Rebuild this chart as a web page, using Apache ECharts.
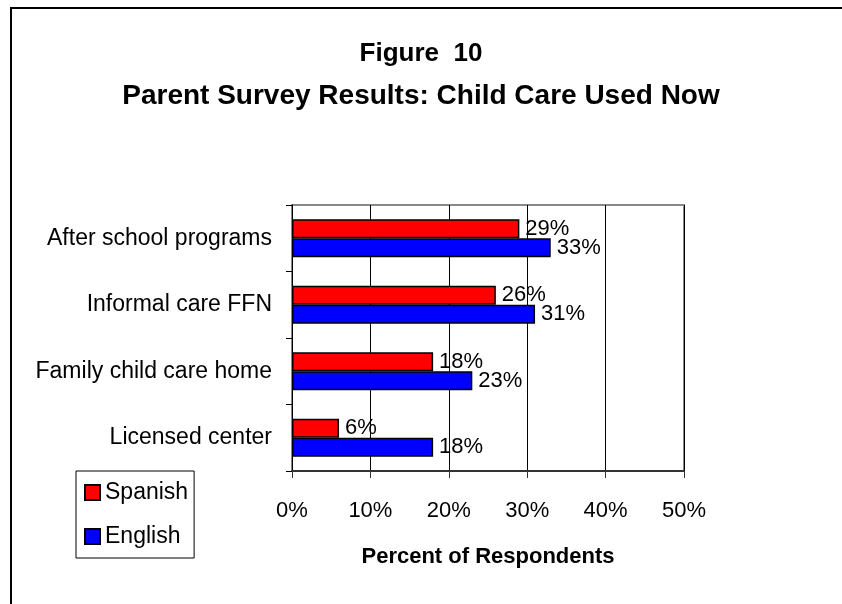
<!DOCTYPE html>
<html>
<head>
<meta charset="utf-8">
<script src="https://cdn.jsdelivr.net/npm/echarts@6/dist/echarts.min.js"></script>
<style>
html,body{margin:0;padding:0;background:#fff;}
#chart{width:842px;height:604px;}
</style>
</head>
<body>
<div id="chart"></div>
<script>
var categories = ['After school programs', 'Informal care FFN', 'Family child care home', 'Licensed center'];
var spanish = [29, 26, 18, 6];
var english = [33, 31, 23, 18];
var xTicks = { min: 0, max: 50, interval: 10 };
var titleLine1 = 'Figure  10';
var titleLine2 = 'Parent Survey Results: Child Care Used Now';
var xAxisName = 'Percent of Respondents';

var FONT = "'Liberation Sans', Arial, sans-serif";
var chart = echarts.init(document.getElementById('chart'), null, { renderer: 'canvas' });
var labelStyle = { show: true, position: 'right', distance: 6, formatter: '{c}%', fontSize: 22, color: '#000', fontFamily: FONT };
chart.setOption({
  animation: false,
  backgroundColor: '#fff',
  textStyle: { fontFamily: FONT },
  title: [
    { text: titleLine1, left: 'center', top: 36, textStyle: { fontSize: 26, fontWeight: 'bold', color: '#000', fontFamily: FONT } },
    { text: titleLine2, left: 'center', top: 77, textStyle: { fontSize: 28, fontWeight: 'bold', color: '#000', fontFamily: FONT } }
  ],
  graphic: [
    { type: 'polyline', shape: { points: [[11, 604], [11, 8], [842, 8]] }, style: { stroke: '#000', lineWidth: 2, fill: null }, z: 100 }
  ],
  legend: {
    orient: 'vertical',
    left: 76,
    top: 471,
    padding: [10, 6, 10, 8],
    itemWidth: 15,
    itemHeight: 15,
    itemGap: 21,
    itemTextGap: 8,
    borderColor: '#000',
    borderWidth: 1,
    selectedMode: false,
    icon: 'rect',
    textStyle: { fontSize: 23, color: '#000', fontFamily: FONT },
    data: ['Spanish', 'English']
  },
  grid: {
    left: 292, top: 205, right: 158, bottom: 133,
    show: true, borderColor: '#888', borderWidth: 2
  },
  xAxis: {
    type: 'value',
    min: xTicks.min, max: xTicks.max, interval: xTicks.interval,
    axisLine: { show: true, lineStyle: { color: '#333', width: 2 } },
    axisTick: { show: true, length: 7, lineStyle: { color: '#333', width: 1 } },
    axisLabel: { formatter: '{value}%', fontSize: 22, color: '#000', margin: 29, fontFamily: FONT },
    splitLine: { show: true, lineStyle: { color: '#000', width: 1 } },
    name: xAxisName,
    nameLocation: 'middle',
    nameGap: 75,
    nameTextStyle: { fontSize: 22, fontWeight: 'bold', color: '#000', fontFamily: FONT }
  },
  yAxis: {
    type: 'category',
    inverse: true,
    data: categories,
    axisLine: { show: true, lineStyle: { color: '#000', width: 1 } },
    axisTick: { show: true, length: 6, lineStyle: { color: '#000' } },
    axisLabel: { fontSize: 23, color: '#000', margin: 20, fontFamily: FONT },
    splitLine: { show: false }
  },
  series: [
    {
      name: 'Spanish', type: 'bar', data: spanish, barWidth: 19, barGap: '0%',
      itemStyle: { color: '#ff0000', borderColor: '#000', borderWidth: 1.5 },
      label: labelStyle
    },
    {
      name: 'English', type: 'bar', data: english, barWidth: 19, barGap: '0%',
      itemStyle: { color: '#0000ff', borderColor: '#000', borderWidth: 1.5 },
      label: labelStyle
    }
  ]
});
</script>
</body>
</html>
